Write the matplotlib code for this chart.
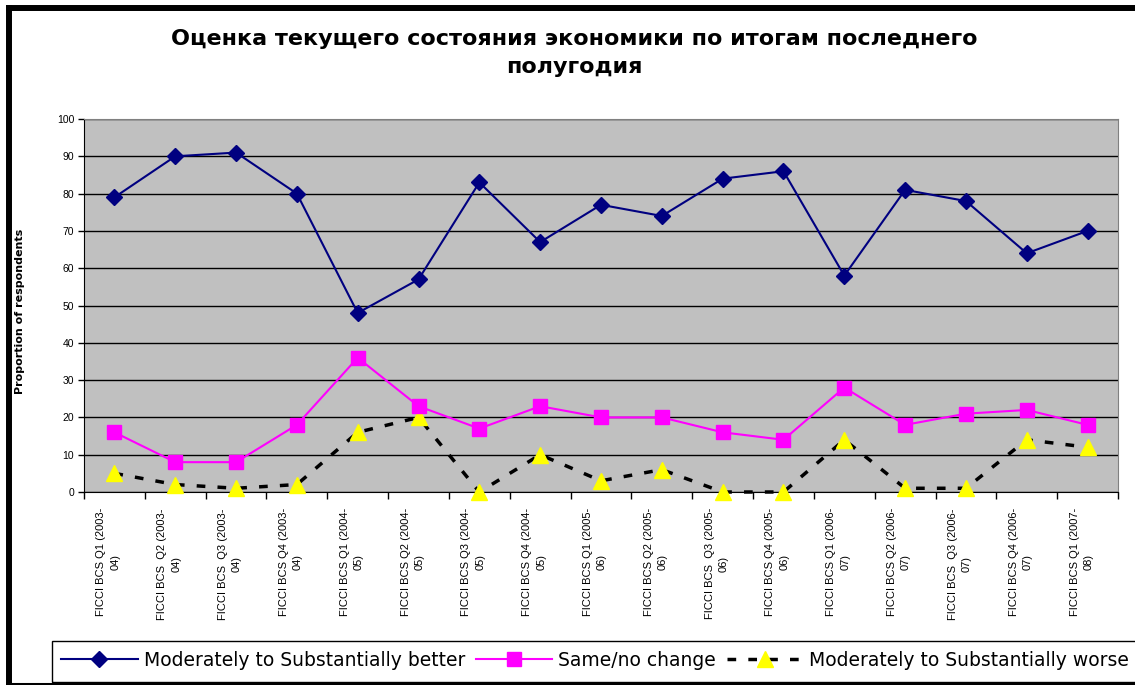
import matplotlib
matplotlib.use("Agg")
import matplotlib.pyplot as plt
from matplotlib.patches import Rectangle
from matplotlib.lines import Line2D
from matplotlib.transforms import ScaledTranslation, blended_transform_factory

plt.rcParams['font.family'] = ['Liberation Sans', 'DejaVu Sans']

categories = [
    "FICCI BCS Q1 (2003-\n04)", "FICCI BCS  Q2 (2003-\n04)", "FICCI BCS  Q3 (2003-\n04)",
    "FICCI BCS Q4 (2003-\n04)", "FICCI BCS Q1 (2004-\n05)", "FICCI BCS Q2 (2004-\n05)",
    "FICCI BCS Q3 (2004-\n05)", "FICCI BCS Q4 (2004-\n05)", "FICCI BCS Q1 (2005-\n06)",
    "FICCI BCS Q2 (2005-\n06)", "FICCI BCS  Q3 (2005-\n06)", "FICCI BCS Q4 (2005-\n06)",
    "FICCI BCS Q1 (2006-\n07)", "FICCI BCS Q2 (2006-\n07)", "FICCI BCS  Q3 (2006-\n07)",
    "FICCI BCS Q4 (2006-\n07)", "FICCI BCS Q1 (2007-\n08)",
]
better = [79, 90, 91, 80, 48, 57, 83, 67, 77, 74, 84, 86, 58, 81, 78, 64, 70]
same = [16, 8, 8, 18, 36, 23, 17, 23, 20, 20, 16, 14, 28, 18, 21, 22, 18]
worse = [5, 2, 1, 2, 16, 20, 0, 10, 3, 6, 0, 0, 14, 1, 1, 14, 12]
yticks = list(range(0, 101, 10))

title = "Оценка текущего состояния экономики по итогам последнего\nполугодия"
ylabel = "Proportion of respondents"
labels = ["Moderately to Substantially better", "Same/no change", "Moderately to Substantially worse"]

W, H = 1135, 685
fig = plt.figure(figsize=(W / 100, H / 100), dpi=100)
ax = fig.add_axes([84 / W, 1 - 492 / H, (1118 - 84) / W, (492 - 119) / H])
ax.set_facecolor('#C0C0C0')

x = list(range(len(categories)))
l1, = ax.plot(x, better, color='#000080', lw=1.5, marker='D', ms=8.5,
              mfc='#000080', mec='#000080', clip_on=False, zorder=5)
l2, = ax.plot(x, same, color='#FF00FF', lw=1.5, marker='s', ms=10,
              mfc='#FF00FF', mec='#FF00FF', clip_on=False, zorder=4)
l3, = ax.plot(x, worse, color='black', lw=2.5, ls=(0, (2.5, 3.5)), marker='^', ms=11,
              mfc='#FFFF00', mec='#FFFF00', clip_on=False, zorder=3)

ax.set_ylim(0, 100)
ax.set_xlim(-0.5, len(categories) - 0.5)
ax.set_yticks(yticks)
ax.set_yticklabels([str(v) for v in yticks], fontsize=7.5)
ax.yaxis.grid(True, color='black', lw=1)
ax.set_axisbelow(True)
ax.set_xticks(x)
ax.set_xticklabels([])
ax.tick_params(axis='x', which='major', length=0)
ax.set_xticks([i - 0.5 for i in range(len(categories) + 1)], minor=True)
ax.tick_params(axis='x', which='minor', length=5, width=1, color='black', direction='out')
ax.tick_params(axis='y', length=4, width=1, direction='out', pad=3)
for s in ['top', 'right']:
    ax.spines[s].set_color('#808080')
for s in ['left', 'bottom']:
    ax.spines[s].set_color('black')

# category labels (Excel-style offset slightly left of the category centre)
base = blended_transform_factory(ax.transData, ax.transAxes)
off = ScaledTranslation(-6 / 100, -16 / 100, fig.dpi_scale_trans)
for xi, lab in zip(x, categories):
    ax.text(xi, 0, lab, transform=base + off, rotation=90, fontsize=8,
            ha='center', va='top', multialignment='center', linespacing=1.5)

fig.text(20 / W, 1 - 311 / H, ylabel, rotation=90, fontsize=8, fontweight='bold',
         ha='center', va='center', family=['DejaVu Sans'])
fig.text(574 / W, 1 - 53 / H, title, fontsize=16, fontweight='bold', ha='center', va='center',
         linespacing=1.45, family=['DejaVu Sans'])

leg = fig.legend([l1, l2, l3], labels, loc='center left', bbox_to_anchor=(61 / W, 1 - 660 / H),
                 ncol=3, frameon=False, prop={'family': 'DejaVu Sans', 'size': 13.5},
                 handlelength=4.1, handletextpad=0.32, columnspacing=0.55,
                 borderaxespad=0, borderpad=0)

# legend box
fig.patches.append(Rectangle((52 / W, 1 - 682 / H), 1.0, 41 / H, transform=fig.transFigure,
                             fill=False, edgecolor='black', lw=1.0))
# outer frame (left, top, bottom)
fig.lines.append(Line2D([9 / W, 9 / W], [1 - 5 / H, 0], transform=fig.transFigure,
                        color='black', lw=4.3, solid_capstyle='butt'))
fig.lines.append(Line2D([6 / W, 1.0], [1 - 8 / H, 1 - 8 / H], transform=fig.transFigure,
                        color='black', lw=4.3, solid_capstyle='butt'))
fig.lines.append(Line2D([6 / W, 1.0], [1 - 683.5 / H, 1 - 683.5 / H], transform=fig.transFigure,
                        color='black', lw=2.2, solid_capstyle='butt'))

fig.savefig('out.png', dpi=100)
